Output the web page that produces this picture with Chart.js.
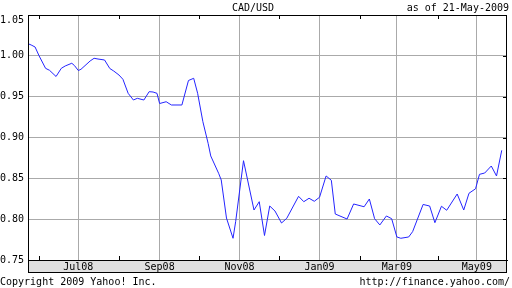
<!DOCTYPE html>
<html>
<head>
<meta charset="utf-8">
<script src="https://cdn.jsdelivr.net/npm/chart.js@4/dist/chart.umd.min.js"></script>
<style>
  html, body { margin: 0; padding: 0; background: #fff; }
  #wrap { width: 512px; height: 288px; }
</style>
</head>
<body>
<div id="wrap"><canvas id="c" width="512" height="288"></canvas></div>
<script>
// ---- data ----
const dates = [
  '2008-05-23','2008-05-26','2008-05-29','2008-06-01','2008-06-06','2008-06-09','2008-06-14','2008-06-18',
  '2008-06-21','2008-06-26','2008-06-28','2008-07-01','2008-07-03','2008-07-10','2008-07-13','2008-07-16',
  '2008-07-21','2008-07-25','2008-07-28','2008-08-01','2008-08-04','2008-08-08','2008-08-12','2008-08-15',
  '2008-08-20','2008-08-24','2008-08-27','2008-08-30','2008-09-01','2008-09-06','2008-09-10','2008-09-18',
  '2008-09-23','2008-09-27','2008-09-30','2008-10-04','2008-10-08','2008-10-10','2008-10-16','2008-10-18',
  '2008-10-22','2008-10-27','2008-10-29','2008-11-04','2008-11-12','2008-11-16','2008-11-20','2008-11-24',
  '2008-11-28','2008-12-03','2008-12-07','2008-12-16','2008-12-20','2008-12-24','2008-12-28','2009-01-01',
  '2009-01-06','2009-01-10','2009-01-13','2009-01-22','2009-01-27','2009-02-04','2009-02-08','2009-02-12',
  '2009-02-16','2009-02-21','2009-02-25','2009-03-01','2009-03-04','2009-03-10','2009-03-13','2009-03-21',
  '2009-03-26','2009-03-30','2009-04-04','2009-04-08','2009-04-16','2009-04-21','2009-04-25','2009-04-30',
  '2009-05-03','2009-05-07','2009-05-12','2009-05-16','2009-05-20'
];
const cadUsd = [
  1.0153,1.0133,1.0108,1.0002,0.9847,0.9823,0.9747,0.9847,
  0.9876,0.9909,0.9882,0.9820,0.9835,0.9937,0.9970,0.9961,
  0.9949,0.9845,0.9814,0.9765,0.9713,0.9541,0.9459,0.9480,
  0.9459,0.9561,0.9557,0.9541,0.9416,0.9438,0.9398,0.9398,
  0.9698,0.9725,0.9541,0.9194,0.8929,0.8774,0.8562,0.8480,
  0.8014,0.7766,0.7969,0.8716,0.8112,0.8214,0.7800,0.8161,
  0.8100,0.7953,0.8011,0.8280,0.8214,0.8256,0.8219,0.8268,
  0.8529,0.8476,0.8063,0.8002,0.8186,0.8152,0.8247,0.8006,
  0.7929,0.8039,0.8006,0.7782,0.7766,0.7782,0.7847,0.8180,
  0.8161,0.7957,0.8158,0.8109,0.8308,0.8112,0.8317,0.8372,
  0.8549,0.8565,0.8651,0.8529,0.8843
];
const monthStarts = [
  '2008-06-01','2008-07-01','2008-08-01','2008-09-01','2008-10-01','2008-11-01',
  '2008-12-01','2009-01-01','2009-02-01','2009-03-01','2009-04-01','2009-05-01'
];
const monthLabels = ['', 'Jul08', '', 'Sep08', '', 'Nov08', '', 'Jan09', '', 'Mar09', '', 'May09'];
const yTicks = [0.75, 0.80, 0.85, 0.90, 0.95, 1.00, 1.05];
const titleText = 'CAD/USD';
const asOfText = 'as of 21-May-2009';
const copyrightText = 'Copyright 2009 Yahoo! Inc.';
const urlText = 'http://finance.yahoo.com/';

// ---- helpers ----
const ORIGIN = Date.UTC(2008, 5, 1);
function dayOf(s) {
  const p = s.split('-').map(Number);
  return (Date.UTC(p[0], p[1] - 1, p[2]) - ORIGIN) / 86400000;
}
const points = dates.map((d, i) => ({ x: dayOf(d), y: cadUsd[i] }));
const monthDays = monthStarts.map(dayOf);
const yMax = yTicks[yTicks.length - 1];

const FONT = "'DejaVu Sans Mono', 'Liberation Mono', monospace";

const decor = {
  id: 'decor',
  beforeDraw(chart) {
    const { ctx, chartArea: a } = chart;
    ctx.save();
    ctx.fillStyle = '#e0e0e0';
    ctx.fillRect(a.left, a.bottom, a.right - a.left, 12);
    ctx.restore();
  },
  afterDraw(chart) {
    const { ctx, chartArea: a, scales } = chart;
    ctx.save();
    ctx.strokeStyle = '#000';
    ctx.lineWidth = 1;
    // plot border
    ctx.strokeRect(Math.round(a.left) + 0.5, Math.round(a.top) + 0.5,
                   Math.round(a.right - a.left) - 1, Math.round(a.bottom - a.top));
    // band border
    ctx.strokeRect(Math.round(a.left) + 0.5, Math.round(a.bottom) + 0.5,
                   Math.round(a.right - a.left) - 1, 12);
    // minor month ticks (top & bottom, inward)
    ctx.beginPath();
    monthDays.forEach((d, i) => {
      if (monthLabels[i]) return;
      const x = Math.round(scales.x.getPixelForValue(d)) + 0.5;
      ctx.moveTo(x, a.top); ctx.lineTo(x, a.top + 4);
      ctx.moveTo(x, a.bottom); ctx.lineTo(x, a.bottom - 4);
    });
    // right-side y ticks (inward)
    yTicks.forEach(v => {
      const y = Math.round(scales.y.getPixelForValue(v)) + 0.5;
      ctx.moveTo(a.right - 4, y); ctx.lineTo(a.right, y);
    });
    ctx.stroke();
    // texts
    ctx.fillStyle = '#000';
    ctx.font = '10px ' + FONT;
    ctx.textBaseline = 'middle';
    ctx.textAlign = 'center';
    ctx.fillText(titleText, 253, 8);
    ctx.textAlign = 'right';
    ctx.fillText(asOfText, 509, 8);
    ctx.fillText(urlText, 510, 282);
    // top y label kept inside the plot's top edge, as in the reference
    ctx.fillText(yMax.toFixed(2), a.left - 4, scales.y.getPixelForValue(yMax) + 5);
    ctx.textAlign = 'left';
    ctx.fillText(copyrightText, 0, 282);
    ctx.restore();
  }
};

new Chart(document.getElementById('c'), {
  type: 'line',
  data: {
    datasets: [{
      data: points,
      borderColor: '#2424ff',
      borderWidth: 1,
      pointRadius: 0,
      tension: 0,
      fill: false
    }]
  },
  options: {
    responsive: false,
    devicePixelRatio: 1,
    animation: false,
    events: [],
    layout: { padding: { top: 15, right: 5, left: 0, bottom: 0 } },
    plugins: { legend: { display: false }, tooltip: { enabled: false } },
    scales: {
      x: {
        type: 'linear',
        min: -8.4,
        max: 357,
        afterBuildTicks(scale) { scale.ticks = monthDays.map(v => ({ value: v })); },
        afterFit(scale) { scale.height = 28; },
        grid: {
          color: ctx => monthLabels[ctx.index] ? '#aaaaaa' : 'rgba(0,0,0,0)',
          drawTicks: false
        },
        border: { display: true, color: '#000' },
        ticks: {
          autoSkip: false,
          maxRotation: 0,
          padding: 1,
          color: '#000',
          font: { family: FONT, size: 10 },
          callback: (v, i) => monthLabels[i]
        }
      },
      y: {
        type: 'linear',
        min: yTicks[0],
        max: yMax,
        afterBuildTicks(scale) { scale.ticks = yTicks.map(v => ({ value: v })); },
        afterFit(scale) { scale.width = 28; },
        grid: { color: '#aaaaaa', drawTicks: false },
        border: { display: true, color: '#000' },
        ticks: {
          padding: 4,
          color: '#000',
          font: { family: FONT, size: 10 },
          callback: v => (v === yMax ? '' : Number(v).toFixed(2))
        }
      }
    }
  },
  plugins: [decor]
});
</script>
</body>
</html>
